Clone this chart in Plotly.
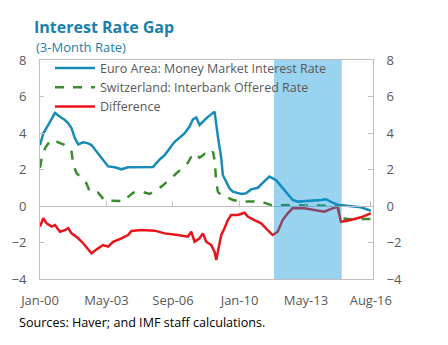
import plotly.graph_objects as go

# ---- data ----
euro_dates = ["2000-01","2000-03","2000-06","2000-08","2000-10","2001-01","2001-04","2001-06",
              "2001-08","2001-10","2001-12","2002-03","2002-06","2002-08","2002-12","2003-03",
              "2003-06","2003-10","2004-02","2004-06","2005-01","2005-09","2006-01","2006-04",
              "2006-10","2007-04","2007-07","2007-09","2007-11","2008-01","2008-05","2008-08",
              "2008-10","2008-12","2009-02","2009-03","2009-05","2009-07","2009-09","2010-02",
              "2010-05","2010-08","2010-12","2011-03","2011-07","2011-11","2012-03","2012-06",
              "2012-09","2012-12","2013-08","2014-02","2014-05","2014-09","2015-01","2015-08",
              "2016-02","2016-08"]
euro_vals = [3.34,3.98,4.44,4.80,5.10,4.89,4.71,4.53,
             4.26,3.71,3.38,3.49,3.43,3.34,2.89,2.56,
             2.17,2.12,2.01,2.12,2.13,2.14,2.55,2.79,
             3.52,3.98,4.35,4.75,4.85,4.44,4.80,5.02,
             5.17,3.80,2.61,1.70,1.33,0.97,0.79,0.66,
             0.70,0.91,1.00,1.24,1.61,1.42,0.97,0.69,
             0.33,0.24,0.27,0.33,0.37,0.18,0.05,0.00,
             -0.07,-0.26]

swiss_dates = ["2000-01","2000-02","2000-04","2000-06","2000-09","2000-12","2001-03","2001-06",
               "2001-08","2001-09","2001-11","2002-02","2002-05","2002-07","2002-12","2003-04",
               "2004-04","2004-06","2004-09","2005-02","2005-07","2006-02","2006-10","2007-06",
               "2007-08","2007-10","2008-01","2008-04","2008-07","2008-09","2008-10","2008-11",
               "2008-12","2009-03","2009-07","2009-09","2010-02","2011-02","2011-09","2012-06",
               "2013-06","2014-06","2014-12","2015-02","2015-08","2016-08"]
swiss_vals = [2.10,2.61,3.16,3.43,3.65,3.49,3.38,3.25,
              2.98,2.25,1.79,1.55,1.24,0.78,0.73,0.29,
              0.27,0.50,0.73,0.79,0.66,1.06,1.70,2.37,
              2.70,2.89,2.65,2.85,2.75,2.98,2.52,1.33,
              0.78,0.51,0.42,0.33,0.24,0.24,0.02,0.05,
              0.03,0.02,0.00,-0.68,-0.72,-0.71]

diff_dates = ["2000-01","2000-03","2000-05","2000-08","2000-10","2001-01","2001-04","2001-06",
              "2001-08","2001-12","2002-03","2002-06","2002-08","2002-12","2003-03","2003-06",
              "2003-09","2004-02","2004-06","2004-08","2005-02","2005-10","2006-04","2006-12",
              "2007-06","2007-08","2007-10","2008-01","2008-03","2008-05","2008-08","2008-10",
              "2008-11","2008-12","2009-02","2009-04","2009-06","2009-08","2009-12","2010-04",
              "2010-06","2010-10","2011-02","2011-06","2011-09","2011-12","2012-03","2012-06",
              "2012-09","2013-04","2013-10","2014-04","2014-09","2014-12","2015-02","2015-08",
              "2016-02","2016-08"]
diff_vals = [-1.13,-0.67,-0.95,-1.13,-1.04,-1.41,-1.32,-1.22,
             -1.50,-1.77,-2.04,-2.41,-2.59,-2.32,-2.14,-2.23,
             -1.96,-1.77,-1.59,-1.37,-1.32,-1.35,-1.50,-1.59,
             -1.68,-1.41,-1.96,-1.77,-1.50,-1.96,-2.14,-2.50,
             -2.96,-2.50,-1.59,-1.22,-0.77,-0.49,-0.49,-0.37,
             -0.58,-0.77,-0.95,-1.32,-1.59,-1.41,-0.77,-0.40,
             -0.13,-0.13,-0.22,-0.31,-0.13,-0.04,-0.86,-0.77,
             -0.62,-0.40]

shade_period = ["2011-09-25", "2015-02-15"]

tick_dates = ["2000-01-01","2003-05-01","2006-09-01","2010-01-01","2013-05-01","2016-08-01"]
tick_labels = ["Jan-00","May-03","Sep-06","Jan-10","May-13","Aug-16"]
x_range = ["2000-01-01","2016-09-10"]

FONT = "Open Sans"
GRAY = "#595959"
LINE = "#bfbfbf"

fig = go.Figure()
fig.add_trace(go.Scatter(x=euro_dates, y=euro_vals, mode="lines",
                         name="Euro Area: Money Market Interest Rate",
                         line=dict(color="#1a8bb9", width=2.5)))
fig.add_trace(go.Scatter(x=swiss_dates, y=swiss_vals, mode="lines",
                         name="Switzerland: Interbank Offered Rate",
                         line=dict(color="#3a8c2f", width=2.5, dash="dash")))
fig.add_trace(go.Scatter(x=diff_dates, y=diff_vals, mode="lines",
                         name="Difference",
                         line=dict(color="#e8141b", width=2.5)))
# invisible trace to activate the right axis
fig.add_trace(go.Scatter(x=[euro_dates[0]], y=[euro_vals[0]], yaxis="y2",
                         mode="markers", marker=dict(opacity=0), showlegend=False,
                         hoverinfo="skip"))
# invisible trace so the zero-line tick axis renders
fig.add_trace(go.Scatter(x=[euro_dates[0]], y=[0], xaxis="x2", mode="markers",
                         marker=dict(opacity=0), showlegend=False, hoverinfo="skip"))

fig.add_shape(type="rect", xref="x", yref="paper",
              x0=shade_period[0], x1=shade_period[1], y0=0, y1=1,
              fillcolor="rgba(0,145,215,0.4)", line=dict(width=0), layer="above")

fig.update_layout(
    width=448, height=345,
    margin=dict(l=37, r=75, t=60, b=66),
    paper_bgcolor="white", plot_bgcolor="white",
    font=dict(family=FONT, size=13, color=GRAY),
    showlegend=True,
    legend=dict(x=0.03, y=1.03, xanchor="left", yanchor="top",
                bgcolor="rgba(0,0,0,0)", font=dict(size=12.5, color=GRAY),
                tracegroupgap=0, itemwidth=40),
    title=dict(text="<b>Interest Rate Gap</b>", x=34/448, xref="container", xanchor="left",
               y=1-27/345, yref="container", yanchor="middle",
               font=dict(family=FONT, size=16, color="#1a7fad")),
    xaxis=dict(type="date", range=x_range, tickvals=tick_dates, ticktext=tick_labels,
               showgrid=False, zeroline=False, showline=True, linecolor=LINE, linewidth=1,
               mirror=True, ticks="", ticklabelstandoff=9,
               tickfont=dict(size=13, color=GRAY)),
    xaxis2=dict(type="date", range=x_range, tickvals=tick_dates, overlaying="x",
                anchor="free", position=4/12, side="bottom",
                showgrid=False, zeroline=False, showline=True, linecolor=LINE, linewidth=1,
                ticks="inside", ticklen=5, tickcolor=LINE, showticklabels=False),
    yaxis=dict(range=[-4, 8], dtick=2, showgrid=False, zeroline=False,
               showline=True, linecolor=LINE, ticks="inside", ticklen=4, tickcolor=LINE,
               ticklabelstandoff=10, tickfont=dict(size=13, color=GRAY)),
    yaxis2=dict(range=[-4, 8], dtick=2, overlaying="y", side="right", showgrid=False,
                zeroline=False, showline=True, linecolor=LINE, ticks="inside", ticklen=5,
                tickcolor=LINE, ticklabelstandoff=10, tickfont=dict(size=13, color=GRAY)),
    annotations=[
        dict(text="(3-Month Rate)", xref="paper", yref="paper", x=(31-37)/336,
             y=1+(60-47)/219, xanchor="left", yanchor="middle", showarrow=False,
             font=dict(family=FONT, size=13, color="#1a7fad")),
        dict(text="Sources: Haver; and IMF staff calculations.", xref="paper", yref="paper",
             x=(14-37)/336, y=-(322-279)/219, xanchor="left", yanchor="middle",
             showarrow=False, font=dict(family=FONT, size=12.6, color="#000000")),
    ],
)

fig.write_html("out.html")
